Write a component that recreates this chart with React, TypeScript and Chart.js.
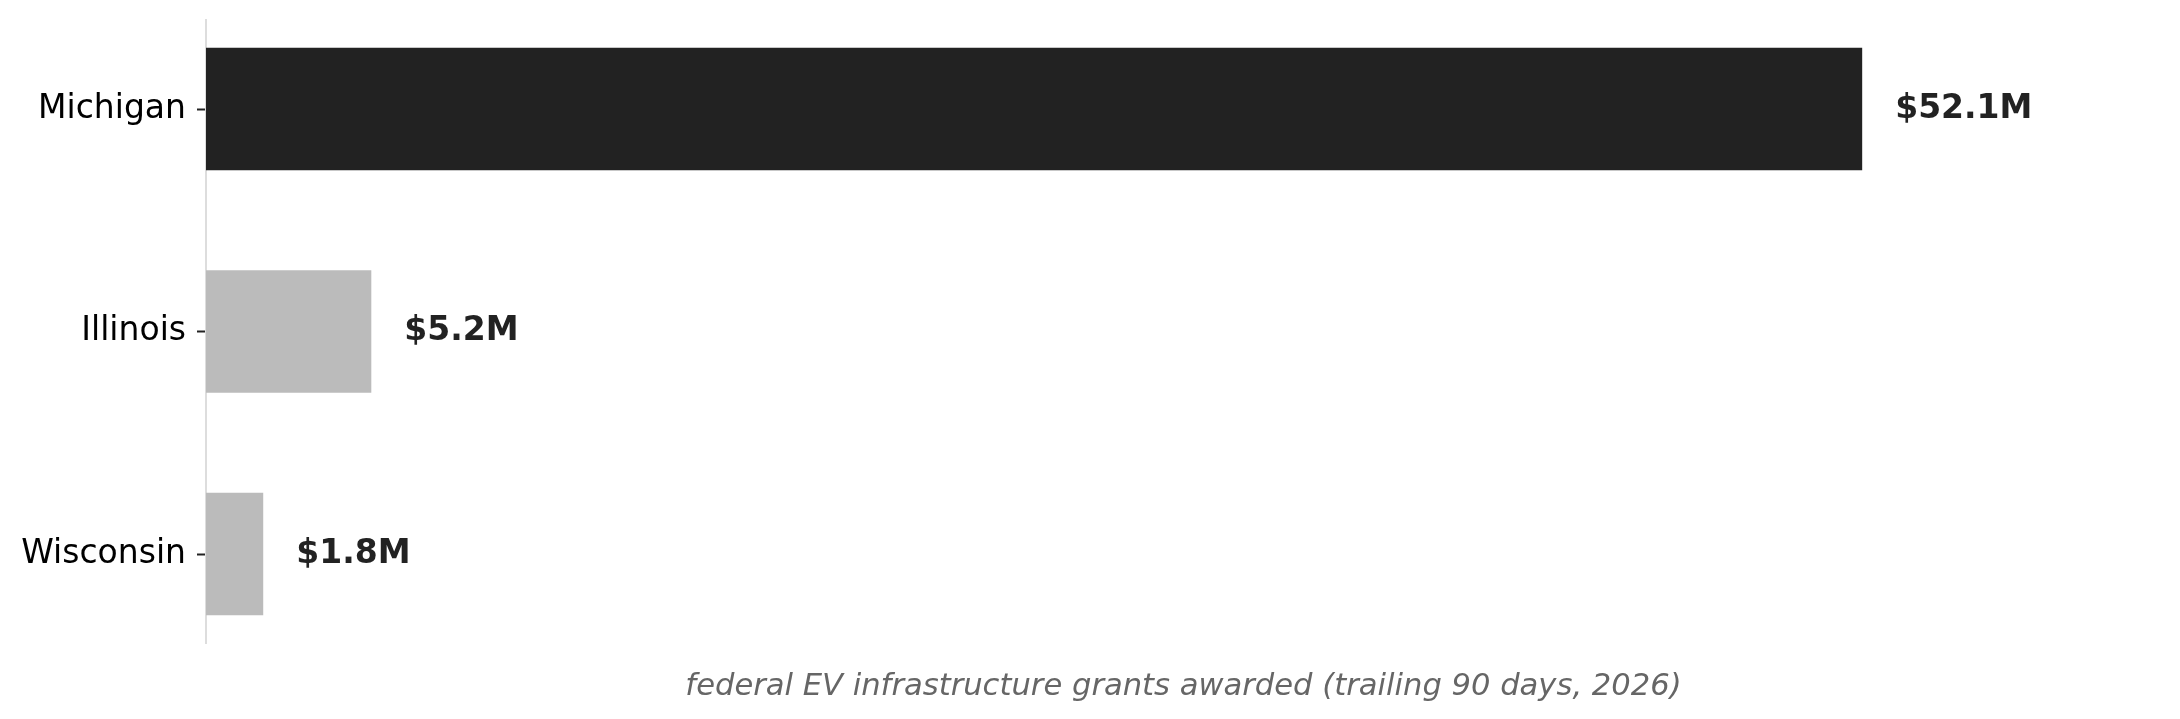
import React, { useEffect, useRef } from 'react';
import { Chart, registerables } from 'chart.js';

Chart.register(...registerables);

const states = ['Michigan', 'Illinois', 'Wisconsin'];
const grants = [52.1, 5.2, 1.8];
const valueLabels = ['$52.1M', '$5.2M', '$1.8M'];
const barColors = ['#222222', '#bbbbbb', '#bbbbbb'];
const xTitle = 'federal EV infrastructure grants awarded (trailing 90 days, 2026)';

const FONT = '"DejaVu Sans", sans-serif';

// draws the bold value next to the end of each bar
const valueLabelPlugin = {
  id: 'valueLabels',
  afterDatasetsDraw(chart: any) {
    const ctx = chart.ctx;
    const meta = chart.getDatasetMeta(0);
    ctx.save();
    ctx.font = `bold 33px ${FONT}`;
    ctx.fillStyle = '#222222';
    ctx.textAlign = 'left';
    ctx.textBaseline = 'middle';
    meta.data.forEach((bar: any, i: number) => {
      ctx.fillText(valueLabels[i], bar.x + 33, bar.y);
    });
    ctx.restore();
  },
};

const App: React.FC = () => {
  const canvasRef = useRef<HTMLCanvasElement>(null);
  const chartRef = useRef<Chart | null>(null);

  useEffect(() => {
    document.body.style.margin = '0';
    if (!canvasRef.current) return;
    if (chartRef.current) chartRef.current.destroy();

    chartRef.current = new Chart(canvasRef.current, {
      type: 'bar',
      data: {
        datasets: [
          {
            data: grants.map((v, i) => ({ x: v, y: i })),
            backgroundColor: barColors,
            borderWidth: 0,
            categoryPercentage: 1,
            barPercentage: 0.55,
          },
        ],
      },
      plugins: [valueLabelPlugin],
      options: {
        indexAxis: 'y',
        responsive: false,
        animation: false,
        devicePixelRatio: 1,
        layout: { padding: { left: 19, right: 19, top: 20, bottom: 0 } },
        plugins: {
          legend: { display: false },
          tooltip: { enabled: false },
        },
        scales: {
          x: {
            type: 'linear',
            min: 0,
            max: 61.5,
            ticks: { display: false },
            grid: { display: false },
            border: { display: false },
            title: {
              display: true,
              text: xTitle,
              color: '#666666',
              font: { family: FONT, size: 30.6, style: 'italic' },
              padding: { top: 0, bottom: 14 },
            },
            afterFit: (s: any) => {
              s.height = 76;
            },
          },
          y: {
            type: 'linear',
            min: -0.4,
            max: 2.4,
            reverse: true,
            offset: false,
            afterBuildTicks: (s: any) => {
              s.ticks = states.map((_, i) => ({ value: i }));
            },
            afterFit: (s: any) => {
              s.width = 187;
              s.paddingTop = 0;
              s.paddingBottom = 0;
            },
            ticks: {
              autoSkip: false,
              padding: 11,
              color: '#000000',
              font: { family: FONT, size: 33 },
              callback: (v: any) => states[v] ?? '',
            },
            grid: {
              offset: false,
              drawOnChartArea: false,
              drawTicks: true,
              tickLength: 9,
              tickWidth: 2,
              tickColor: '#222222',
            },
            border: { color: '#dddddd', width: 2 },
          },
        },
      } as any,
    });

    return () => {
      if (chartRef.current) {
        chartRef.current.destroy();
        chartRef.current = null;
      }
    };
  }, []);

  return (
    <div style={{ width: 2180, height: 719 }}>
      <canvas ref={canvasRef} width={2180} height={719} style={{ width: 2180, height: 719, display: 'block' }} />
    </div>
  );
};

export default App;
